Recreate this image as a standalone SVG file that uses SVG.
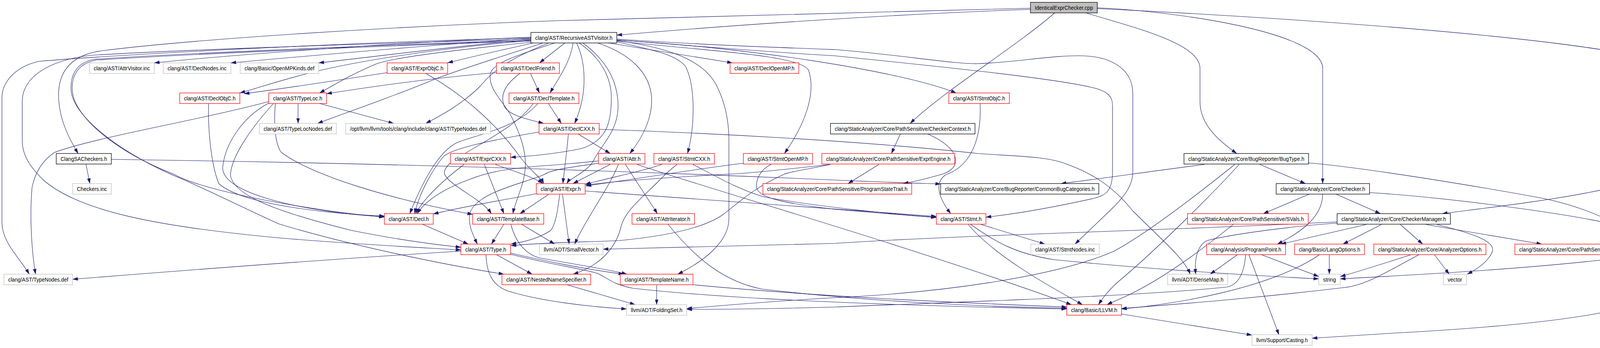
<svg xmlns="http://www.w3.org/2000/svg" width="4275" height="891" viewBox="0 0 4275 891">
<style>
.e{fill:none;stroke:#191970;stroke-width:1.1;marker-end:url(#a)}
rect{fill:#fff;stroke-width:1.3}
.r rect{stroke:#ff0000}
.g rect{stroke:#bfbfbf}
.k rect{stroke:#000}
.root rect{fill:#bfbfbf;stroke:#000}
text{font-family:"Liberation Sans",Arial,sans-serif;font-size:14px;fill:#000;text-anchor:middle}
</style>
<defs>
<marker id="a" viewBox="0 0 14 9" refX="13.5" refY="4.5" markerWidth="14" markerHeight="9" markerUnits="userSpaceOnUse" orient="auto"><path d="M0,0 L14,4.5 L0,9 z" fill="#191970"/></marker>
</defs>
<rect x="0" y="0" width="4275" height="891" style="fill:#fff;stroke:none"/>
<g id="edges">
<path class="e" d="M2638,24 C2300,36 1900,62 1579,90"/>
<path class="e" d="M2638,21 C2200,32 1700,46 1426,53 C1000,68 500,100 260,130 C175,142 148,190 150,250 C152,310 180,360 200,393"/>
<path class="e" d="M2700,33 C2600,120 2420,230 2330,316"/>
<path class="e" d="M2780,33 C2900,70 3072,110 3072,175 L3072,260 C3072,320 3120,360 3166,393"/>
<path class="e" d="M2809,20 C3000,28 3380,80 3386,173 L3386,470"/>
<path class="e" d="M2809,22 C3400,50 4200,110 4272,173 L4272,407 C4272,480 3900,520 3692,547"/>
<path class="e" d="M1359,95 C1000,110 600,140 395,161"/>
<path class="e" d="M1359,98 C1100,116 800,142 591,161"/>
<path class="e" d="M1359,101 C1150,120 950,146 816,161"/>
<path class="e" d="M1365,110 C1300,125 1220,142 1146,161"/>
<path class="e" d="M1446,110 L1381,161"/>
<path class="e" d="M1359,104 C1100,125 900,160 800,185 C720,205 670,222 614,238"/>
<path class="e" d="M1360,108 C1150,130 1000,148 960,165 C900,190 860,215 818,238"/>
<path class="e" d="M1390,110 C1300,140 1200,170 1120,200 C1000,250 880,290 813,316"/>
<path class="e" d="M1405,110 C1330,140 1270,170 1230,220 C1180,270 1120,300 1090,316"/>
<path class="e" d="M1359,97 C900,108 300,140 100,157 C40,170 5,210 5,250 L5,570 C5,620 50,660 75,702"/>
<path class="e" d="M1359,100 C900,113 400,130 230,142 C120,155 57,200 57,260 L57,360 C57,400 80,430 110,460 C200,540 400,580 713,609 C900,625 1100,635 1180,640"/>
<path class="e" d="M1359,103 C900,118 400,140 240,152 C190,162 180,200 182,230 C185,300 320,400 470,460 C560,500 640,540 713,573 C900,630 1150,680 1290,702"/>
<path class="e" d="M1359,105 C900,120 420,142 245,154 C195,164 183,200 185,230 C188,300 300,390 445,446 C520,490 800,540 984,556"/>
<path class="e" d="M1467,110 C1460,160 1430,200 1408,238"/>
<path class="e" d="M1476,110 C1500,160 1505,240 1471,316"/>
<path class="e" d="M1530,110 C1620,140 1660,190 1667,240 C1675,300 1640,360 1612,393"/>
<path class="e" d="M1579,107 C1680,130 1730,140 1755,170 C1780,220 1780,320 1760,393"/>
<path class="e" d="M1579,105 C1800,130 2050,140 2070,180 C2090,240 2060,320 2008,393"/>
<path class="e" d="M1558,110 L1875,161"/>
<path class="e" d="M1579,103 C1900,120 2300,180 2448,238"/>
<path class="e" d="M1579,102 C1800,120 2000,135 2139,143 C2400,170 2700,200 2800,225 C2840,235 2848,250 2848,270 L2848,440 C2848,490 2830,500 2800,508 C2700,530 2600,548 2524,556"/>
<path class="e" d="M1579,100 C1800,115 2000,122 2139,127 C2300,140 2450,165 2503,163 C2600,160 2700,140 2775,143 C2850,146 2900,180 2900,240 L2900,440 C2900,480 2870,510 2852,529 L2752,625"/>
<path class="e" d="M1483,110 C1540,150 1565,200 1565,250 C1565,320 1550,360 1490,380 C1420,395 1350,400 1307,403"/>
<path class="e" d="M1492,110 C1560,160 1585,220 1582,280 C1578,340 1540,370 1520,410 C1505,440 1460,455 1451,470"/>
<path class="e" d="M1579,104 C1700,120 1800,150 1835,220 C1860,270 1866,320 1866,360 L1866,560 C1866,620 1800,670 1735,702"/>
<path class="e" d="M1420,110 C1330,140 1260,160 1255,190 C1250,230 1290,260 1310,300 C1330,340 1345,380 1345,420 C1345,470 1320,510 1313,547"/>
<path class="e" d="M534,265 C532,330 540,420 560,470 C620,525 850,548 984,553"/>
<path class="e" d="M991,186 C900,200 760,222 625,240"/>
<path class="e" d="M1090,188 C1200,250 1280,330 1330,400 C1360,440 1385,455 1392,470"/>
<path class="e" d="M1271,186 C1100,200 950,222 836,240"/>
<path class="e" d="M1358,188 L1381,238"/>
<path class="e" d="M1331,188 C1295,215 1280,240 1290,270 C1300,295 1350,305 1392,316"/>
<path class="e" d="M763,265 L763,316"/>
<path class="e" d="M818,265 L1008,316"/>
<path class="e" d="M688,260 C500,310 250,350 140,390 C110,410 90,440 82,480 C75,560 82,650 91,702"/>
<path class="e" d="M688,264 C620,300 575,370 570,430 C570,500 800,545 984,555"/>
<path class="e" d="M700,265 C650,320 590,400 590,450 C600,500 700,540 900,590 C1050,620 1150,630 1180,633"/>
<path class="e" d="M705,265 C700,320 705,370 720,390 C800,450 1000,510 1210,549"/>
<path class="e" d="M1404,265 L1437,316"/>
<path class="e" d="M1377,265 C1320,330 1220,345 1170,365 C1120,390 1080,470 1049,547"/>
<path class="e" d="M1365,265 C1320,330 1200,380 1150,420 C1130,440 1135,450 1160,470 C1200,500 1240,520 1258,547"/>
<path class="e" d="M1480,343 L1562,393"/>
<path class="e" d="M1455,343 C1450,400 1444,440 1441,470"/>
<path class="e" d="M1380,338 C1250,360 1160,380 1136,400 C1110,430 1075,490 1061,547"/>
<path class="e" d="M1534,331 C1800,340 2200,360 2503,393 C2600,400 2680,400 2730,420 C2800,445 2852,480 2900,540 C2980,620 3030,660 3047,702"/>
<path class="e" d="M2509,265 C2512,330 2500,420 2420,448 C2390,470 2405,510 2434,547"/>
<path class="e" d="M2305,343 L2282,393"/>
<path class="e" d="M2375,343 C2460,380 2465,430 2412,446 C2370,458 2340,465 2312,470"/>
<path class="e" d="M220,420 L230,470"/>
<path class="e" d="M285,408 C800,415 1426,430 2139,461 C2250,466 2350,469 2408,471"/>
<path class="e" d="M1188,421 C1150,450 1090,500 1064,547"/>
<path class="e" d="M1240,421 L1290,547"/>
<path class="e" d="M1268,421 C1320,440 1370,455 1390,470"/>
<path class="e" d="M1562,421 L1467,470"/>
<path class="e" d="M1583,421 C1560,480 1500,560 1471,625"/>
<path class="e" d="M1601,421 L1683,547"/>
<path class="e" d="M1631,421 C1800,480 2300,620 2743,780"/>
<path class="e" d="M1532,412 C1480,418 1440,420 1426,422 C1300,430 1250,440 1200,460 C1120,490 1085,520 1068,547"/>
<path class="e" d="M1532,418 C1460,428 1410,435 1395,446 C1340,470 1230,490 1205,540 C1195,570 1210,600 1222,625"/>
<path class="e" d="M1694,421 C1640,440 1560,455 1498,472"/>
<path class="e" d="M1733,421 C1715,435 1703,446 1690,460 C1640,510 1600,540 1590,580 C1578,630 1540,680 1467,702"/>
<path class="e" d="M1774,421 C1830,450 1900,490 1960,505 C2100,530 2300,550 2397,556"/>
<path class="e" d="M1903,418 C1800,430 1650,455 1500,476"/>
<path class="e" d="M1974,421 C1945,435 1935,460 1937,480 C1940,505 2000,520 2139,536 C2250,546 2350,553 2397,557"/>
<path class="e" d="M2250,421 L2171,470"/>
<path class="e" d="M2126,421 C2000,435 1900,445 1862,446 C1700,455 1560,465 1500,474"/>
<path class="e" d="M2126,421 C2060,435 2020,440 2008,446 C1930,480 1890,520 1850,550 C1800,585 1700,605 1585,616 C1500,620 1400,620 1308,629"/>
<path class="e" d="M1373,496 C1300,510 1180,530 1109,548"/>
<path class="e" d="M1404,498 L1331,547"/>
<path class="e" d="M1433,498 C1428,530 1425,570 1410,590 C1380,610 1340,620 1308,625"/>
<path class="e" d="M1440,498 L1457,625"/>
<path class="e" d="M1498,489 C1800,510 2100,530 2397,554"/>
<path class="e" d="M1081,574 L1199,625"/>
<path class="e" d="M1290,574 L1258,625"/>
<path class="e" d="M1335,574 L1420,625"/>
<path class="e" d="M1308,575 C1320,620 1345,650 1380,660 C1460,675 1560,690 1605,702"/>
<path class="e" d="M1180,643 C900,660 500,690 186,715"/>
<path class="e" d="M1271,652 L1362,702"/>
<path class="e" d="M1307,648 C1380,665 1500,690 1597,702"/>
<path class="e" d="M1307,651 C1400,675 1500,690 1530,700 C1560,715 1570,728 1620,738 C1900,770 2400,785 2731,791"/>
<path class="e" d="M1244,652 C1246,700 1260,730 1300,745 C1380,770 1500,785 1604,791"/>
<path class="e" d="M1710,574 C1780,660 1850,720 1950,740 C2200,770 2500,785 2731,789"/>
<path class="e" d="M2509,574 L2675,625"/>
<path class="e" d="M2478,574 C2550,660 2700,740 2771,780"/>
<path class="e" d="M2484,574 C2550,620 2600,650 2700,665 C2950,690 3200,705 3376,714"/>
<path class="e" d="M1451,729 L1626,780"/>
<path class="e" d="M1681,730 L1681,780"/>
<path class="e" d="M1774,729 C2100,760 2450,775 2731,786"/>
<path class="e" d="M2871,804 L3205,858"/>
<path class="e" d="M3084,421 C2950,438 2800,460 2716,470"/>
<path class="e" d="M3225,421 L3342,470"/>
<path class="e" d="M3172,421 C3120,480 2960,640 2870,715 C2840,740 2825,760 2812,780"/>
<path class="e" d="M3161,421 C3100,470 2950,590 2852,643 C2700,710 2400,750 2139,762 C2000,770 1850,782 1758,790"/>
<path class="e" d="M3350,417 C3500,430 3800,480 3951,508 C4100,540 4197,600 4197,635 C4197,650 4185,655 4150,660 C3900,690 3600,705 3431,714"/>
<path class="e" d="M3352,497 L3234,547"/>
<path class="e" d="M3420,497 L3534,547"/>
<path class="e" d="M3386,497 C3386,560 3320,600 3270,625"/>
<path class="e" d="M3506,493 C3700,505 4000,545 4124,573 C4230,600 4272,620 4272,660 L4272,719 C4272,790 4000,830 3565,853 L3359,866"/>
<path class="e" d="M3585,575 L3642,625"/>
<path class="e" d="M3651,575 L3947,625"/>
<path class="e" d="M3679,575 C3780,600 3830,620 3820,645 C3810,670 3780,690 3756,702"/>
<path class="e" d="M3497,575 L3279,625"/>
<path class="e" d="M3536,575 L3438,625"/>
<path class="e" d="M3423,571 C3300,580 3150,600 3090,616 C3062,630 3058,670 3061,702"/>
<path class="e" d="M3423,568 C3000,590 2500,600 2139,623 C1900,630 1650,635 1544,638"/>
<path class="e" d="M3157,575 C3100,620 3000,700 2900,750 C2870,765 2850,772 2834,780"/>
<path class="e" d="M3168,652 L3098,702"/>
<path class="e" d="M3229,652 L3376,708"/>
<path class="e" d="M3197,652 L3274,857"/>
<path class="e" d="M3189,652 C3185,700 3170,730 3140,735 C2900,760 2400,775 2139,786 C2000,790 1850,792 1758,792"/>
<path class="e" d="M3403,652 L3403,702"/>
<path class="e" d="M3378,652 C3250,740 3000,780 2871,791"/>
<path class="e" d="M3672,652 L3710,702"/>
<path class="e" d="M3613,652 C3540,675 3480,695 3431,708"/>
<path class="e" d="M3633,652 C3560,690 3500,730 3443,736 C3200,765 3000,780 2871,790"/>
</g>
<g id="n0" class="root"><rect x="2638" y="6" width="171" height="27"/><text x="2723.5" y="24.5" textLength="149" lengthAdjust="spacingAndGlyphs">IdenticalExprChecker.cpp</text></g>
<g id="n1" class="k"><rect x="1359" y="83" width="220" height="27"/><text x="1469" y="101.5" textLength="198" lengthAdjust="spacingAndGlyphs">clang/AST/RecursiveASTVisitor.h</text></g>
<g id="n2" class="g"><rect x="229" y="161" width="166" height="27"/><text x="312" y="179.5" textLength="144" lengthAdjust="spacingAndGlyphs">clang/AST/AttrVisitor.inc</text></g>
<g id="n3" class="g"><rect x="418" y="161" width="173" height="27"/><text x="504.5" y="179.5" textLength="151" lengthAdjust="spacingAndGlyphs">clang/AST/DeclNodes.inc</text></g>
<g id="n4" class="g"><rect x="615" y="161" width="201" height="27"/><text x="715.5" y="179.5" textLength="179" lengthAdjust="spacingAndGlyphs">clang/Basic/OpenMPKinds.def</text></g>
<g id="n5" class="r"><rect x="991" y="161" width="155" height="27"/><text x="1068.5" y="179.5" textLength="133" lengthAdjust="spacingAndGlyphs">clang/AST/ExprObjC.h</text></g>
<g id="n6" class="r"><rect x="1271" y="161" width="161" height="27"/><text x="1351.5" y="179.5" textLength="139" lengthAdjust="spacingAndGlyphs">clang/AST/DeclFriend.h</text></g>
<g id="n7" class="r"><rect x="1869" y="161" width="176" height="27"/><text x="1957" y="179.5" textLength="154" lengthAdjust="spacingAndGlyphs">clang/AST/DeclOpenMP.h</text></g>
<g id="n8" class="r"><rect x="460" y="238" width="154" height="27"/><text x="537" y="256.5" textLength="132" lengthAdjust="spacingAndGlyphs">clang/AST/DeclObjC.h</text></g>
<g id="n9" class="r"><rect x="688" y="238" width="148" height="27"/><text x="762" y="256.5" textLength="126" lengthAdjust="spacingAndGlyphs">clang/AST/TypeLoc.h</text></g>
<g id="n10" class="r"><rect x="1303" y="238" width="179" height="27"/><text x="1392.5" y="256.5" textLength="157" lengthAdjust="spacingAndGlyphs">clang/AST/DeclTemplate.h</text></g>
<g id="n11" class="r"><rect x="2429" y="238" width="155" height="27"/><text x="2506.5" y="256.5" textLength="133" lengthAdjust="spacingAndGlyphs">clang/AST/StmtObjC.h</text></g>
<g id="n12" class="g"><rect x="664" y="316" width="197" height="27"/><text x="762.5" y="334.5" textLength="175" lengthAdjust="spacingAndGlyphs">clang/AST/TypeLocNodes.def</text></g>
<g id="n13" class="g"><rect x="885" y="316" width="371" height="27"/><text x="1070.5" y="334.5" textLength="349" lengthAdjust="spacingAndGlyphs">/opt/llvm/llvm/tools/clang/include/clang/AST/TypeNodes.def</text></g>
<g id="n14" class="r"><rect x="1380" y="316" width="154" height="27"/><text x="1457" y="334.5" textLength="132" lengthAdjust="spacingAndGlyphs">clang/AST/DeclCXX.h</text></g>
<g id="n15" class="k"><rect x="2126" y="316" width="370" height="27"/><text x="2311" y="334.5" textLength="348" lengthAdjust="spacingAndGlyphs">clang/StaticAnalyzer/Core/PathSensitive/CheckerContext.h</text></g>
<g id="n16" class="k"><rect x="144" y="393" width="141" height="27"/><text x="214.5" y="411.5" textLength="119" lengthAdjust="spacingAndGlyphs">ClangSACheckers.h</text></g>
<g id="n17" class="r"><rect x="1153" y="393" width="154" height="27"/><text x="1230" y="411.5" textLength="132" lengthAdjust="spacingAndGlyphs">clang/AST/ExprCXX.h</text></g>
<g id="n18" class="r"><rect x="1532" y="393" width="119" height="27"/><text x="1591.5" y="411.5" textLength="97" lengthAdjust="spacingAndGlyphs">clang/AST/Attr.h</text></g>
<g id="n19" class="r"><rect x="1674" y="393" width="155" height="27"/><text x="1751.5" y="411.5" textLength="133" lengthAdjust="spacingAndGlyphs">clang/AST/StmtCXX.h</text></g>
<g id="n20" class="r"><rect x="1903" y="393" width="177" height="27"/><text x="1991.5" y="411.5" textLength="155" lengthAdjust="spacingAndGlyphs">clang/AST/StmtOpenMP.h</text></g>
<g id="n21" class="r"><rect x="2104" y="393" width="340" height="27"/><text x="2274" y="411.5" textLength="318" lengthAdjust="spacingAndGlyphs">clang/StaticAnalyzer/Core/PathSensitive/ExprEngine.h</text></g>
<g id="n22" class="k"><rect x="3031" y="393" width="319" height="27"/><text x="3190.5" y="411.5" textLength="297" lengthAdjust="spacingAndGlyphs">clang/StaticAnalyzer/Core/BugReporter/BugType.h</text></g>
<g id="n23" class="g"><rect x="186" y="470" width="99" height="27"/><text x="235.5" y="488.5" textLength="77" lengthAdjust="spacingAndGlyphs">Checkers.inc</text></g>
<g id="n24" class="r"><rect x="1373" y="470" width="125" height="27"/><text x="1435.5" y="488.5" textLength="103" lengthAdjust="spacingAndGlyphs">clang/AST/Expr.h</text></g>
<g id="n25" class="r"><rect x="1953" y="470" width="381" height="27"/><text x="2143.5" y="488.5" textLength="359" lengthAdjust="spacingAndGlyphs">clang/StaticAnalyzer/Core/PathSensitive/ProgramStateTrait.h</text></g>
<g id="n26" class="k"><rect x="2408" y="470" width="405" height="27"/><text x="2610.5" y="488.5" textLength="383" lengthAdjust="spacingAndGlyphs">clang/StaticAnalyzer/Core/BugReporter/CommonBugCategories.h</text></g>
<g id="n27" class="k"><rect x="3267" y="470" width="239" height="27"/><text x="3386.5" y="488.5" textLength="217" lengthAdjust="spacingAndGlyphs">clang/StaticAnalyzer/Core/Checker.h</text></g>
<g id="n28" class="r"><rect x="984" y="547" width="125" height="27"/><text x="1046.5" y="565.5" textLength="103" lengthAdjust="spacingAndGlyphs">clang/AST/Decl.h</text></g>
<g id="n29" class="r"><rect x="1210" y="547" width="182" height="27"/><text x="1301" y="565.5" textLength="160" lengthAdjust="spacingAndGlyphs">clang/AST/TemplateBase.h</text></g>
<g id="n30" class="r"><rect x="1618" y="547" width="160" height="27"/><text x="1698" y="565.5" textLength="138" lengthAdjust="spacingAndGlyphs">clang/AST/AttrIterator.h</text></g>
<g id="n31" class="r"><rect x="2397" y="547" width="127" height="27"/><text x="2460.5" y="565.5" textLength="105" lengthAdjust="spacingAndGlyphs">clang/AST/Stmt.h</text></g>
<g id="n32" class="r"><rect x="3040" y="547" width="309" height="27"/><text x="3194.5" y="565.5" textLength="287" lengthAdjust="spacingAndGlyphs">clang/StaticAnalyzer/Core/PathSensitive/SVals.h</text></g>
<g id="n33" class="k"><rect x="3423" y="547" width="290" height="27"/><text x="3568" y="565.5" textLength="268" lengthAdjust="spacingAndGlyphs">clang/StaticAnalyzer/Core/CheckerManager.h</text></g>
<g id="n34" class="r"><rect x="1180" y="625" width="127" height="27"/><text x="1243.5" y="643.5" textLength="105" lengthAdjust="spacingAndGlyphs">clang/AST/Type.h</text></g>
<g id="n35" class="g"><rect x="1381" y="625" width="163" height="27"/><text x="1462.5" y="643.5" textLength="141" lengthAdjust="spacingAndGlyphs">llvm/ADT/SmallVector.h</text></g>
<g id="n36" class="g"><rect x="2639" y="625" width="175" height="27"/><text x="2726.5" y="643.5" textLength="153" lengthAdjust="spacingAndGlyphs">clang/AST/StmtNodes.inc</text></g>
<g id="n37" class="r"><rect x="3089" y="625" width="202" height="27"/><text x="3190" y="643.5" textLength="180" lengthAdjust="spacingAndGlyphs">clang/Analysis/ProgramPoint.h</text></g>
<g id="n38" class="r"><rect x="3314" y="625" width="179" height="27"/><text x="3403.5" y="643.5" textLength="157" lengthAdjust="spacingAndGlyphs">clang/Basic/LangOptions.h</text></g>
<g id="n39" class="r"><rect x="3517" y="625" width="287" height="27"/><text x="3660.5" y="643.5" textLength="265" lengthAdjust="spacingAndGlyphs">clang/StaticAnalyzer/Core/AnalyzerOptions.h</text></g>
<g id="n40" class="r"><rect x="3878" y="625" width="307" height="27"/><text x="4031.5" y="643.5" textLength="285" lengthAdjust="spacingAndGlyphs">clang/StaticAnalyzer/Core/PathSensitive/Store.h</text></g>
<g id="n41" class="g"><rect x="10" y="702" width="176" height="27"/><text x="98" y="720.5" textLength="154" lengthAdjust="spacingAndGlyphs">clang/AST/TypeNodes.def</text></g>
<g id="n42" class="r"><rect x="1285" y="702" width="227" height="27"/><text x="1398.5" y="720.5" textLength="205" lengthAdjust="spacingAndGlyphs">clang/AST/NestedNameSpecifier.h</text></g>
<g id="n43" class="r"><rect x="1588" y="702" width="186" height="27"/><text x="1681" y="720.5" textLength="164" lengthAdjust="spacingAndGlyphs">clang/AST/TemplateName.h</text></g>
<g id="n44" class="g"><rect x="2989" y="702" width="154" height="27"/><text x="3066" y="720.5" textLength="132" lengthAdjust="spacingAndGlyphs">llvm/ADT/DenseMap.h</text></g>
<g id="n45" class="g"><rect x="3376" y="702" width="55" height="27"/><text x="3403.5" y="720.5" textLength="33" lengthAdjust="spacingAndGlyphs">string</text></g>
<g id="n46" class="g"><rect x="3695" y="702" width="59" height="27"/><text x="3724.5" y="720.5" textLength="37" lengthAdjust="spacingAndGlyphs">vector</text></g>
<g id="n47" class="g"><rect x="1604" y="780" width="154" height="27"/><text x="1681" y="798.5" textLength="132" lengthAdjust="spacingAndGlyphs">llvm/ADT/FoldingSet.h</text></g>
<g id="n48" class="r"><rect x="2731" y="780" width="140" height="27"/><text x="2801" y="798.5" textLength="118" lengthAdjust="spacingAndGlyphs">clang/Basic/LLVM.h</text></g>
<g id="n49" class="g"><rect x="3205" y="857" width="154" height="27"/><text x="3282" y="875.5" textLength="132" lengthAdjust="spacingAndGlyphs">llvm/Support/Casting.h</text></g>
</svg>
